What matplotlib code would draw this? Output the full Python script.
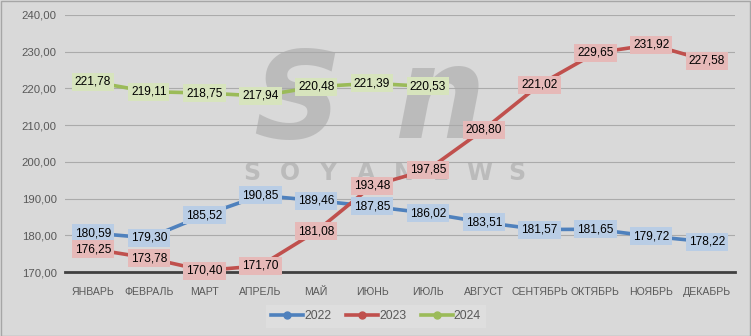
import matplotlib.pyplot as plt
from matplotlib.lines import Line2D
from matplotlib.patches import Rectangle
import numpy as np

# Данные
months = ['ЯНВАРЬ', 'ФЕВРАЛЬ', 'МАРТ', 'АПРЕЛЬ', 'МАЙ', 'ИЮНЬ', 'ИЮЛЬ',
          'АВГУСТ', 'СЕНТЯБРЬ', 'ОКТЯБРЬ', 'НОЯБРЬ', 'ДЕКАБРЬ']
y_ticks = [170, 180, 190, 200, 210, 220, 230, 240]
prices_2022 = [180.59, 179.30, 185.52, 190.85, 189.46, 187.85, 186.02,
               183.51, 181.57, 181.65, 179.72, 178.22]
prices_2023 = [176.25, 173.78, 170.40, 171.70, 181.08, 193.48, 197.85,
               208.80, 221.02, 229.65, 231.92, 227.58]
prices_2024 = [221.78, 219.11, 218.75, 217.94, 220.48, 221.39, 220.53]

SERIES = [
    ('2022', prices_2022, '#4f81bd', '#b9cde5'),
    ('2023', prices_2023, '#c0504d', '#e6b9b8'),
    ('2024', prices_2024, '#9bbb59', '#d7e4bd'),
]

BG = '#d9d9d9'
TXT = '#595959'

plt.rcParams['font.family'] = ['Liberation Sans', 'DejaVu Sans']

W, H = 751, 336
fig = plt.figure(figsize=(W / 100, H / 100), dpi=100, facecolor=BG)
ax = fig.add_axes([65 / W, 1 - 272 / H, 670 / W, 257 / H])
ax.set_facecolor(BG)

# Водяной знак
wm = dict(transform=fig.transFigure, color='#a8a8a8', alpha=0.6, zorder=1, clip_on=False)
ax.text(297 / W, 1 - 138 / H, 'S', fontsize=88, style='italic', weight='bold', ha='center',
        va='baseline', family='DejaVu Sans', **wm)
ax.text(440 / W, 1 - 138 / H, 'n', fontsize=92, style='italic', weight='bold', ha='center',
        va='baseline', family='DejaVu Sans', **wm)
for letter, xp in zip('SOYANEWS', np.linspace(252, 517, 8)):
    ax.text(xp / W, 1 - 173 / H, letter, fontsize=17, weight='bold', ha='center', va='center',
            family='DejaVu Sans', **wm)

# Линии и подписи
for name, values, color, label_bg in SERIES:
    xs = np.arange(len(values))
    ax.plot(xs, values, color=color, lw=2.6, marker='o', markersize=11,
            markeredgecolor=color, zorder=3, solid_capstyle='round')
    for xi, v in zip(xs, values):
        ax.text(xi, v, f'{v:.2f}'.replace('.', ','), ha='center', va='center',
                fontsize=8.6, color='black', zorder=4,
                bbox=dict(boxstyle='square,pad=0.25', facecolor=label_bg, edgecolor='none'))

ax.set_xlim(-0.5, len(months) - 0.5)
ax.set_ylim(170, 240)
ax.set_xticks(range(len(months)), labels=months)
ax.set_yticks(y_ticks, labels=[f'{t:.2f}'.replace('.', ',') for t in y_ticks])
ax.tick_params(axis='both', length=0, colors=TXT)
ax.tick_params(axis='x', pad=11, labelsize=7.6)
ax.tick_params(axis='y', pad=6, labelsize=8.2)
ax.grid(True, axis='y', color='#ababab', lw=0.8)
ax.set_axisbelow(True)
for side in ['top', 'right', 'left']:
    ax.spines[side].set_visible(False)
ax.spines['bottom'].set_color('#404040')
ax.spines['bottom'].set_linewidth(2)
ax.spines['bottom'].set_zorder(2.5)

# Легенда
handles = [Line2D([0], [0], color=c, lw=2.6, marker='o', markersize=5) for _, _, c, _ in SERIES]
leg = fig.legend(handles, [s[0] for s in SERIES], loc='center', bbox_to_anchor=(376 / W, 1 - 316 / H),
                 ncol=3, frameon=True, fancybox=False, fontsize=8.8, handlelength=2.6,
                 columnspacing=1.2, handletextpad=0.1, borderpad=0.45)
leg.get_frame().set_facecolor('#e0e0e0')
leg.get_frame().set_edgecolor('none')
for t in leg.get_texts():
    t.set_color(TXT)

# Рамка
fig.patches.append(Rectangle((0.5 / W, 0.5 / H), 1 - 1.5 / W, 1 - 1.5 / H, transform=fig.transFigure,
                             fill=False, edgecolor='#a6a6a6', lw=1))

fig.savefig('out.png', dpi=100, facecolor=BG)
